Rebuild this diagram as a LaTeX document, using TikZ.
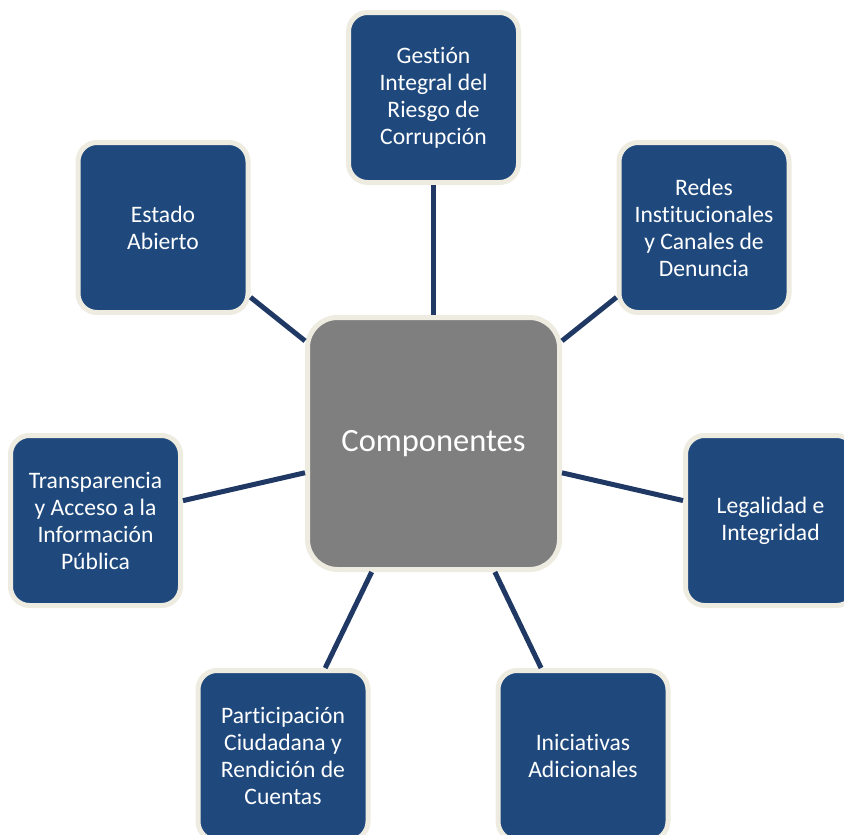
\documentclass[tikz,border=0pt]{standalone}
\usepackage{fontspec}
\setmainfont{Carlito}[Ligatures=NoCommon]
\definecolor{boxblue}{HTML}{1F497D}
\definecolor{cream}{HTML}{EEECE1}
\definecolor{linkblue}{HTML}{1F3864}
\definecolor{hubgray}{HTML}{7F7F7F}
\begin{document}
\begin{tikzpicture}[x=1pt,y=-1pt,
  sat/.style={draw=cream, line width=5pt, fill=boxblue, rounded corners=19pt,
    minimum width=170pt, minimum height=170pt, inner sep=0pt, align=center,
    text=white, font=\fontsize{23.6}{27}\selectfont},
  hub/.style={draw=cream, line width=5pt, fill=hubgray, rounded corners=30pt,
    minimum width=252pt, minimum height=252pt, inner sep=0pt, align=center,
    text=white, font=\fontsize{32.5}{40}\selectfont},
  link/.style={draw=linkblue, line width=5pt}]
\useasboundingbox (0,0) rectangle (844,835);
\node[hub] (c) at (433.5,443.5) {Componentes};
\node[sat] (n1) at (433.5,97.5) {Gestión\\Integral del\\Riesgo de\\Corrupción};
\node[sat] (n2) at (704,227.5) {Redes\\Institucionales\\y Canales de\\Denuncia};
\node[sat] (n3) at (770.5,520.5) {Legalidad e\\Integridad};
\node[sat] (n4) at (583,755.5) {Iniciativas\\Adicionales};
\node[sat] (n5) at (283,755.5) {Participación\\Ciudadana y\\Rendición de\\Cuentas};
\node[sat] (n6) at (95.5,520.5) {Transparencia\\y Acceso a la\\Información\\Pública};
\node[sat] (n7) at (163,227.5) {Estado\\Abierto};
\foreach \n in {n1,n2,n3,n4,n5,n6,n7} \draw[link] (c) -- (\n);
\end{tikzpicture}
\end{document}
